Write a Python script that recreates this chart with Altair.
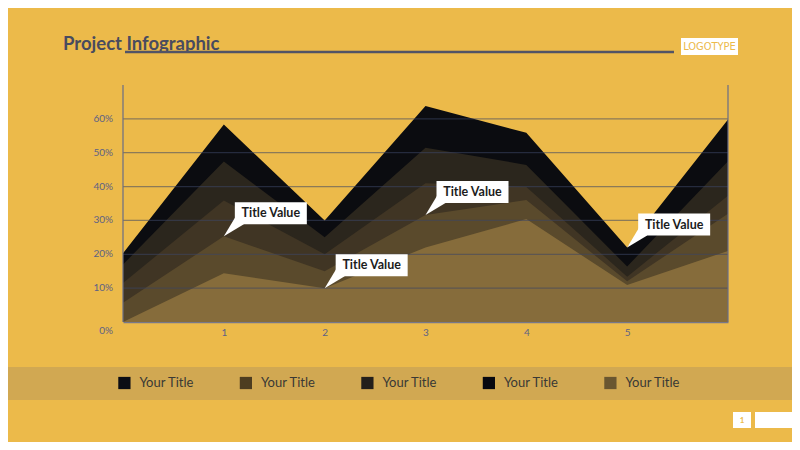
import altair as alt
import pandas as pd

# ---------------- data ----------------
x_vals = [0, 1, 2, 3, 4, 5, 6]
layer1 = [20.3, 58.3, 30.0, 63.8, 55.9, 22.0, 59.8]
layer2 = [17.0, 47.4, 25.0, 51.5, 46.4, 16.4, 47.5]
layer3 = [11.5, 35.9, 20.0, 41.0, 39.9, 13.4, 37.3]
layer4 = [5.7, 25.3, 15.0, 31.6, 36.0, 12.0, 32.0]
layer5 = [0.0, 14.4, 10.0, 22.0, 30.4, 10.9, 21.0]
layer_colors = ["#0b0c10", "#2b261d", "#403524", "#5a4a2c", "#866c3b"]

x_ticks = [1, 2, 3, 4, 5]
y_ticks = [10, 20, 30, 40, 50, 60]
y_labels = ["10%", "20%", "30%", "40%", "50%", "60%"]

legend_labels = ["Your Title", "Your Title", "Your Title", "Your Title", "Your Title"]
legend_colors = ["#0c0d14", "#4d3d20", "#231f1b", "#08080f", "#6a5630"]

callout_x = [1, 2, 3, 5]
callout_y = [25.3, 10.0, 31.6, 22.0]
callout_text = ["Title Value", "Title Value", "Title Value", "Title Value"]

title_text = "Project Infographic"
logo_text = "LOGOTYPE"
page_text = "1"

# ---------------- layout ----------------
W, H = 605, 237
BG = "#ECBA4A"
FONT = "Lato"
LABEL = "#5d6185"

xs = alt.Scale(domain=[0, 6], nice=False, zero=False)
ys = alt.Scale(domain=[0, 70], nice=False)

layers = []
for i, (vals, col) in enumerate(zip([layer1, layer2, layer3, layer4, layer5], layer_colors)):
    df = pd.DataFrame({"x": x_vals, "v": vals})
    if i == 0:
        xax = alt.Axis(values=x_ticks, title=None, grid=False, ticks=False,
                       domain=True, domainColor="#77788a", domainWidth=1.5,
                       labelColor=LABEL, labelFont=FONT, labelFontSize=10,
                       labelPadding=5)
    else:
        xax = None
    layers.append(
        alt.Chart(df).mark_area(color=col, opacity=1, interpolate="linear").encode(
            x=alt.X("x:Q", scale=xs, axis=xax),
            y=alt.Y("v:Q", scale=ys, axis=None),
        )
    )

grid = alt.Chart(pd.DataFrame({"v": y_ticks})).mark_rule(
    color="#3c4565", strokeWidth=1.3, opacity=0.55
).encode(y=alt.Y("v:Q", scale=ys, axis=None), x=alt.value(0), x2=alt.value(W))

one = pd.DataFrame({"a": [0]})
left_line = alt.Chart(one).mark_rule(color="#6a6d85", strokeWidth=1.2).encode(
    x=alt.value(0), y=alt.value(0), y2=alt.value(H))
right_line = alt.Chart(one).mark_rule(color="#6a6d85", strokeWidth=1.2).encode(
    x=alt.value(W), y=alt.value(0), y2=alt.value(H))

ylab = alt.Chart(pd.DataFrame({"v": y_ticks, "t": y_labels})).mark_text(
    align="right", baseline="middle", font=FONT, fontSize=10, color=LABEL
).encode(y=alt.Y("v:Q", scale=ys, axis=None), x=alt.value(-10), text="t:N")

zero_label = alt.Chart(pd.DataFrame({"v": [0], "t": ["0%"]})).mark_text(
    align="right", baseline="middle", dy=9, font=FONT, fontSize=10, color=LABEL
).encode(y=alt.Y("v:Q", scale=ys, axis=None), x=alt.value(-10), text="t:N")

cdf = pd.DataFrame({"x": callout_x, "v": callout_y, "t": callout_text})
tail = alt.Chart(cdf).mark_point(
    shape="M0,0L1.2,-2L2,-1.2Z", size=400, filled=True, color="white",
    opacity=1, strokeWidth=0
).encode(x=alt.X("x:Q", scale=xs, axis=None), y=alt.Y("v:Q", scale=ys, axis=None))
box = alt.Chart(cdf).mark_rect(
    color="white", xOffset=11, x2Offset=83, yOffset=-34, y2Offset=-12
).encode(x=alt.X("x:Q", scale=xs, axis=None), x2="x:Q",
         y=alt.Y("v:Q", scale=ys, axis=None), y2="v:Q")
box_text = alt.Chart(cdf).mark_text(
    dx=47, dy=-23, align="center", baseline="middle", font=FONT,
    fontWeight="bold", fontSize=12.5, color="#1c1c1c"
).encode(x=alt.X("x:Q", scale=xs, axis=None), y=alt.Y("v:Q", scale=ys, axis=None),
         text="t:N")

title = alt.Chart(pd.DataFrame({"t": [title_text]})).mark_text(
    align="left", baseline="alphabetic", font=FONT, fontWeight="bold",
    fontSize=18.5, color="#484b5f"
).encode(x=alt.value(-60), y=alt.value(-35), text="t:N")
underline = alt.Chart(one).mark_rule(color="#525466", strokeWidth=2.5).encode(
    x=alt.value(2), x2=alt.value(551), y=alt.value(-33))

logo_box = alt.Chart(one).mark_rect(color="white").encode(
    x=alt.value(558), x2=alt.value(615), y=alt.value(-47), y2=alt.value(-30))
logo = alt.Chart(pd.DataFrame({"t": [logo_text]})).mark_text(
    align="center", baseline="middle", font="DejaVu Sans Condensed, Roboto",
    fontSize=11, color=BG
).encode(x=alt.value(586.5), y=alt.value(-38.5), text="t:N")

band = alt.Chart(one).mark_rect(color="#D1A852").encode(
    x=alt.value(-115), x2=alt.value(669), y=alt.value(282), y2=alt.value(315))

ldf = pd.DataFrame({"i": list(range(len(legend_labels))), "t": legend_labels,
                    "c": legend_colors})
lxs = alt.Scale(domain=[0, 4], range=[1.4, 487.4])
leg_sq = alt.Chart(ldf).mark_square(size=150, filled=True, opacity=1).encode(
    x=alt.X("i:Q", scale=lxs, axis=None), y=alt.value(298),
    color=alt.Color("c:N", scale=None))
leg_tx = alt.Chart(ldf).mark_text(
    align="left", baseline="middle", dx=15, font=FONT, fontSize=13, color="#3a3935"
).encode(x=alt.X("i:Q", scale=lxs, axis=None), y=alt.value(298), text="t:N")

pg_box = alt.Chart(one).mark_rect(color="white").encode(
    x=alt.value(610), x2=alt.value(628), y=alt.value(327), y2=alt.value(343))
pg_box2 = alt.Chart(one).mark_rect(color="white").encode(
    x=alt.value(632), x2=alt.value(669), y=alt.value(327), y2=alt.value(343))
pg_tx = alt.Chart(pd.DataFrame({"t": [page_text]})).mark_text(
    align="center", baseline="middle", font=FONT, fontWeight="bold",
    fontSize=8, color=BG
).encode(x=alt.value(619), y=alt.value(335.5), text="t:N")

chart = alt.layer(
    band, *layers, grid, left_line, right_line, ylab, zero_label,
    tail, box, box_text, title, underline, logo_box, logo,
    leg_sq, leg_tx, pg_box, pg_box2, pg_tx
).resolve_scale(x="independent").properties(
    width=W, height=H,
    autosize=alt.AutoSizeParams(type="none"),
    padding={"left": 115, "top": 77, "right": 64, "bottom": 120},
    background=BG,
).configure_view(stroke=None)

chart.save("out.html", embed_options={"renderer": "svg", "actions": False})
